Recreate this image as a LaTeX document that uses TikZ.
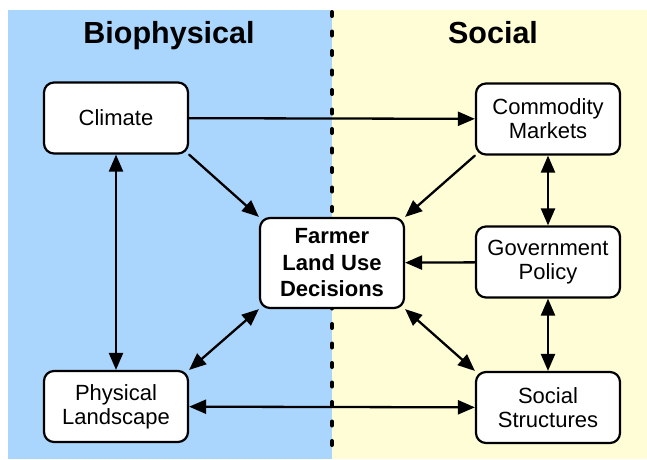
\documentclass[tikz,border=0pt]{standalone}
\usepackage{fontspec}
\setmainfont{Liberation Sans}
\usetikzlibrary{arrows.meta}
\definecolor{bioblue}{RGB}{170,213,252}
\definecolor{socyellow}{RGB}{255,253,214}
\begin{document}
\begin{tikzpicture}[x=1pt, y=-1pt, line join=round, line cap=round,
  >={Triangle[length=17pt,width=14pt]},
  box/.style={draw, line width=2.2pt, rounded corners=10pt, fill=white,
    minimum width=144pt, minimum height=71pt, align=center,
    font=\fontsize{22}{24}\selectfont},
  link/.style={line width=2.3pt},
  title/.style={anchor=base, font=\fontsize{30.5}{36}\selectfont\bfseries}]
\def\xmid{332} \def\ytop{10}
\useasboundingbox (0,0) rectangle (647,459);
\fill[bioblue] (8,\ytop) rectangle (\xmid,459);
\fill[socyellow] (\xmid,\ytop) rectangle (647,459);
\draw[line width=4pt, dash pattern=on 4pt off 15.5pt] (\xmid,12)--(\xmid,459);
\node[title] (bio) at (169,43) {Biophysical};
\node[title] (soc) at (493,43) {Social};
\node[box] (clim) at (116,118) {Climate};
\node[box] (comm) at (548,119) {Commodity\\Markets};
\node[box, minimum height=90pt, font=\fontsize{22}{26.5}\selectfont\bfseries] (farm) at (332,263) {Farmer\\Land Use\\Decisions};
\node[box] (gov) at (548,262) {Government\\Policy};
\node[box] (phys) at (116,406.5) {Physical\\Landscape};
\node[box] (socs) at (548,407.5) {Social\\Structures};
\draw[link,->] (clim) -- (comm);
\draw[link,->] (clim.south east) -- (farm.north west);
\draw[link,->] (comm.south west) -- (farm.north east);
\draw[link,<->] (comm) -- (gov);
\draw[link,->] (gov) -- (farm);
\draw[link,<->] (gov) -- (socs);
\draw[link,<->] (farm.south east) -- (socs.north west);
\draw[link,<->] (farm.south west) -- (phys.north east);
\draw[link,<->] (phys) -- (socs);
\draw[link,<->] (clim) -- (phys);
\end{tikzpicture}
\end{document}
